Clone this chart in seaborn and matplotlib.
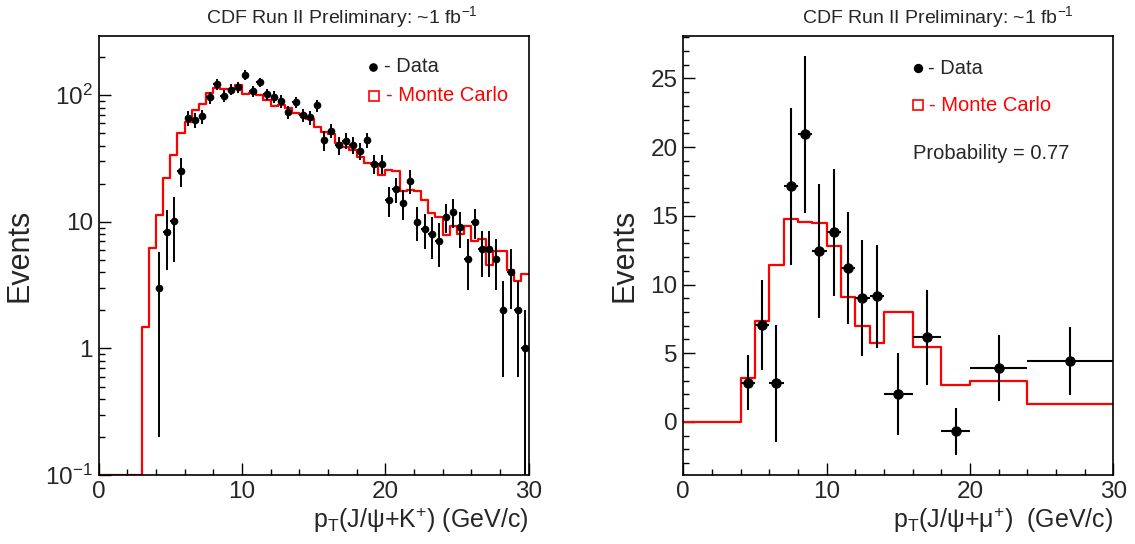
import numpy as np
import pandas as pd
import matplotlib
matplotlib.use("Agg")
import matplotlib.pyplot as plt
from matplotlib.ticker import MultipleLocator, FixedLocator, FixedFormatter, LogLocator, NullFormatter
import seaborn as sns

# ---- left panel: pT(J/psi + K+), 0.5 GeV bins ----
k_edges = np.arange(0, 30.01, 0.5)
k_mc = [0.1, 0.1, 0.1, 0.1, 0.1, 0.1, 1.47, 6.2, 11.3, 22,
        34, 50, 62, 76, 86, 104, 114, 112, 112, 121,
        102, 105, 100, 91, 82, 84, 80, 73, 71, 65,
        56.5, 51.6, 49.5, 42.3, 39.3, 37, 32.3, 29.4, 28.7, 23.5,
        25.7, 25.4, 17.4, 17.9, 17.5, 15, 11.7, 10.9, 7.9, 9.2,
        8.0, 9.2, 7.0, 7.3, 4.6, 5.85, 5.85, 4.2, 3.4, 3.9]
k_data = [3.0, 8.3, 10.2, 25.4, 66, 64, 68, 96, 122, 99,
          111, 116, 145, 108, 127, 102, 97.5, 90, 73.5, 88,
          70, 67, 83, 44.4, 52.6, 40.5, 43.8, 40.5, 36.5, 44.4,
          28.7, 28.7, 14.9, 18.1, 14.0, 21.2, 10.0, 8.8, 8.0, 7.06,
          11.0, 12.0, 9.06, 5.07, 10.0, 6.08, 6.08, 5.07, 2.0, 4.05,
          2.0, 1.0]
k_err = [2.8, 4.1, 5.4, 6.5, 9, 9, 9, 11, 12, 11,
         11, 11, 12, 11, 11, 10, 10, 10, 9, 9,
         8.5, 8.5, 9, 8, 7, 6.6, 6.5, 6.3, 5.5, 6,
         5, 5, 4, 4, 3.7, 4.5, 3, 2.7, 2.9, 2.7,
         2.8, 3.1, 2.8, 2.2, 2.7, 2.4, 2.4, 2.2, 1.4, 2.0,
         1.4, 1.0]

# ---- right panel: pT(J/psi + mu+), variable bins ----
mu_edges = [0, 4, 5, 6, 7, 8, 9, 10, 11, 12, 13, 14, 16, 18, 20, 24, 30]
mu_mc = [0, 3.2, 7.36, 11.4, 14.74, 14.55, 14.45, 12.8, 9.1, 6.97,
         5.78, 7.97, 5.42, 2.67, 2.96, 1.29]
mu_data = [2.87, 7.06, 2.8, 17.15, 20.93, 12.43, 13.79, 11.2, 9.03, 9.16,
           2.04, 6.17, -0.68, 3.93, 4.42]
mu_err = [2.0, 3.3, 4.25, 5.7, 5.7, 4.9, 4.6, 4.1, 4.2, 3.75,
          3.0, 3.46, 1.73, 2.43, 2.46]

title = "CDF Run II Preliminary: ~1 fb$^{-1}$"

sns.set_style("ticks")
plt.rcParams['font.family'] = ['Liberation Sans', 'DejaVu Sans']
plt.rcParams['mathtext.fontset'] = 'custom'
plt.rcParams['mathtext.rm'] = 'Liberation Sans'
plt.rcParams['mathtext.it'] = 'Liberation Sans:italic'
plt.rcParams['mathtext.bf'] = 'Liberation Sans:bold'

fig = plt.figure(figsize=(11.35, 5.44), dpi=100)
ax1 = fig.add_axes([0.0868, 0.1268, 0.3789, 0.8075])
ax2 = fig.add_axes([0.602, 0.1268, 0.3789, 0.8075])

# MC histograms
k_cent = (k_edges[:-1] + k_edges[1:]) / 2
k_df = pd.DataFrame({'pt': k_cent, 'w': k_mc})
sns.histplot(data=k_df, x='pt', weights='w', bins=list(k_edges), element='step',
             fill=False, color='red', linewidth=1.6, ax=ax1)
mu_e = np.array(mu_edges, dtype=float)
mu_cent = (mu_e[:-1] + mu_e[1:]) / 2
mu_df = pd.DataFrame({'pt': mu_cent, 'w': mu_mc})
sns.histplot(data=mu_df, x='pt', weights='w', bins=mu_edges, element='step',
             fill=False, color='red', linewidth=1.6, ax=ax2)

# data points
kx = k_cent[8:]
ax1.errorbar(kx, k_data, yerr=k_err, xerr=0.25, fmt='o', color='black',
             ms=4.5, elinewidth=1.4, capsize=0, zorder=5)
mx = mu_cent[1:]
mxerr = (mu_e[2:] - mu_e[1:-1]) / 2
ax2.errorbar(mx, mu_data, yerr=mu_err, xerr=mxerr, fmt='o', color='black',
             ms=6.5, elinewidth=1.5, capsize=0, zorder=5)

# axes formatting
ax1.set_yscale('log')
ax1.set_xlim(0, 30)
ax1.set_ylim(0.1, 10 ** 2.47)
ax1.yaxis.set_major_locator(FixedLocator([0.1, 1, 10, 100]))
ax1.yaxis.set_major_formatter(FixedFormatter(['10$^{-1}$', '1', '10', '10$^{2}$']))
ax1.yaxis.set_minor_locator(LogLocator(base=10, subs=np.arange(2, 10)))
ax1.yaxis.set_minor_formatter(NullFormatter())

ax2.set_xlim(0, 30)
ax2.set_ylim(-3.86, 28.1)
ax2.yaxis.set_major_locator(MultipleLocator(5))
ax2.yaxis.set_minor_locator(MultipleLocator(1))

for ax in (ax1, ax2):
    ax.xaxis.set_major_locator(MultipleLocator(10))
    ax.xaxis.set_minor_locator(MultipleLocator(2))
    ax.tick_params(which='both', direction='in', top=False, right=False,
                   labelsize=17.5, width=1.0, color='black')
    ax.tick_params(which='major', length=8.5, pad=4)
    ax.tick_params(which='minor', length=4.5)
    for s in ax.spines.values():
        s.set_linewidth(1.2)
        s.set_color('black')
    ax.set_ylabel('Events', fontsize=22, labelpad=8)

ax1.set_xlabel(r'p$_{\mathregular{T}}$(J/ψ+K$^{\mathregular{+}}$) (GeV/c)',
               fontsize=18, loc='right', labelpad=2)
ax2.set_xlabel(r'p$_{\mathregular{T}}$(J/ψ+μ$^{\mathregular{+}}$)  (GeV/c)',
               fontsize=18, loc='right', labelpad=2)

# legend-like annotations
def key(ax, x, y, marker, mfc, mec, ms):
    ax.plot([x], [y], marker=marker, mfc=mfc, mec=mec, ms=ms, mew=1.2,
            linestyle='none', transform=ax.transAxes, clip_on=False)

key(ax1, 0.638, 0.929, 'o', 'black', 'black', 5)
ax1.text(0.664, 0.929, '- Data', transform=ax1.transAxes, fontsize=14.5,
         va='center', ha='left')
key(ax1, 0.640, 0.863, 's', 'white', 'red', 7.5)
ax1.text(0.668, 0.863, '- Monte Carlo', transform=ax1.transAxes, fontsize=14.5,
         va='center', ha='left', color='red')

key(ax2, 0.546, 0.926, 'o', 'black', 'black', 5.5)
ax2.text(0.569, 0.926, '- Data', transform=ax2.transAxes, fontsize=14.5,
         va='center', ha='left')
key(ax2, 0.546, 0.842, 's', 'white', 'red', 7.5)
ax2.text(0.572, 0.842, '- Monte Carlo', transform=ax2.transAxes, fontsize=14.5,
         va='center', ha='left', color='red')
ax2.text(0.534, 0.733, 'Probability = 0.77', transform=ax2.transAxes,
         fontsize=14.5, va='center', ha='left')

fig.text(342 / 1135, 1 - 17 / 544, title, ha='center', va='center', fontsize=14)
fig.text(938 / 1135, 1 - 17 / 544, title, ha='center', va='center', fontsize=14)

fig.savefig('out.png', dpi=100)
plt.close(fig)
